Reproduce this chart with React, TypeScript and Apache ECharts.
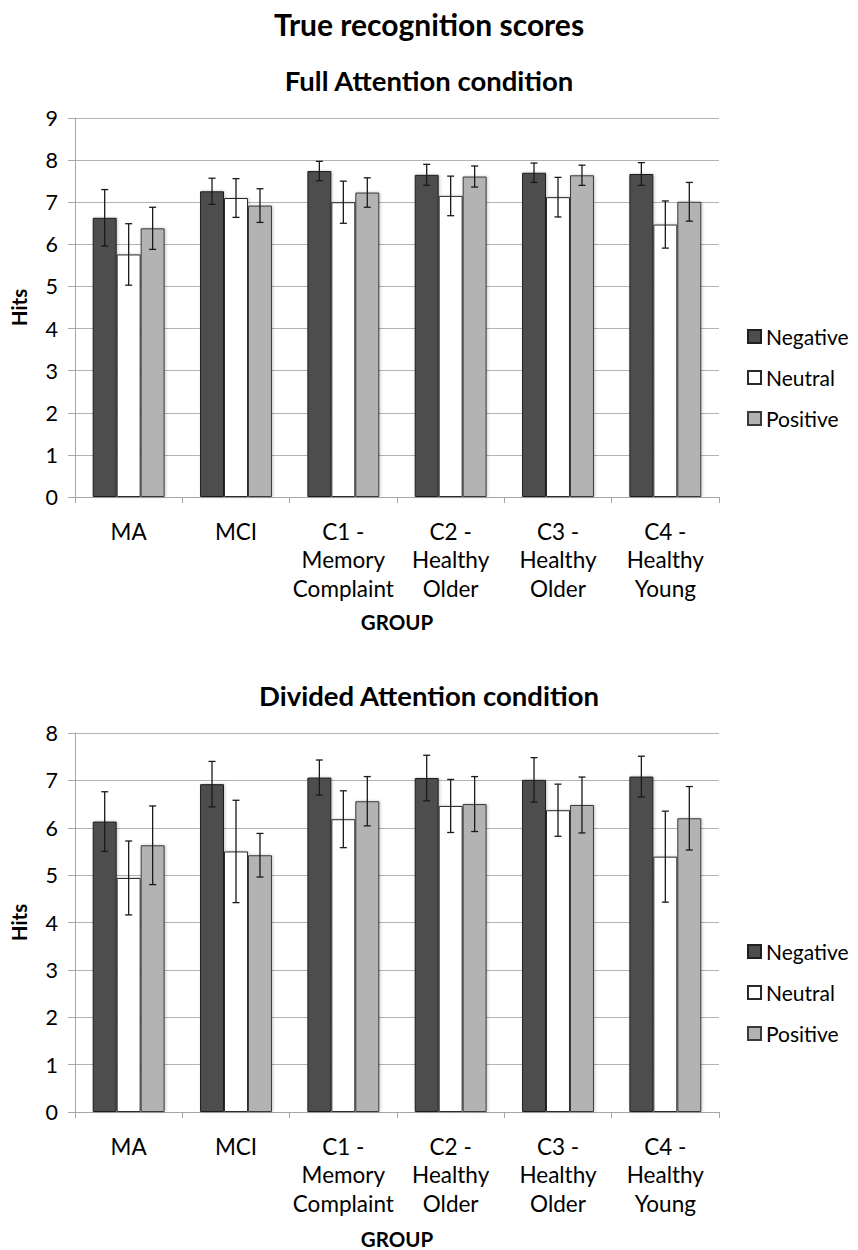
import React, { useEffect, useRef } from "react";
import * as echarts from "echarts";

// Group categories (x axis)
const groups = [
  "MA",
  "MCI",
  "C1 -\nMemory\nComplaint",
  "C2 -\nHealthy\nOlder",
  "C3 -\nHealthy\nOlder",
  "C4 -\nHealthy\nYoung",
];
const valenceNames = ["Negative", "Neutral", "Positive"];

// Full Attention condition: mean hits and error-bar half-widths
const fullNegative = [6.63, 7.26, 7.74, 7.65, 7.7, 7.67];
const fullNegativeErr = [0.67, 0.31, 0.23, 0.25, 0.23, 0.27];
const fullNeutral = [5.76, 7.1, 7.0, 7.15, 7.12, 6.47];
const fullNeutralErr = [0.73, 0.46, 0.5, 0.47, 0.47, 0.56];
const fullPositive = [6.38, 6.92, 7.23, 7.61, 7.64, 7.01];
const fullPositiveErr = [0.5, 0.4, 0.35, 0.25, 0.24, 0.46];

// Divided Attention condition
const dividedNegative = [6.13, 6.92, 7.06, 7.05, 7.01, 7.08];
const dividedNegativeErr = [0.63, 0.48, 0.37, 0.48, 0.47, 0.43];
const dividedNeutral = [4.94, 5.5, 6.18, 6.46, 6.37, 5.39];
const dividedNeutralErr = [0.78, 1.08, 0.6, 0.56, 0.55, 0.96];
const dividedPositive = [5.63, 5.42, 6.56, 6.5, 6.48, 6.2];
const dividedPositiveErr = [0.83, 0.46, 0.52, 0.58, 0.59, 0.67];

const FONT = "Lato, 'Open Sans', sans-serif";
const fills = ["#4d4d4d", "#ffffff", "#b3b3b3"];
const borders = ["#1f1f1f", "#2a2a2a", "#3a3a3a"];
const CATEGORY_GAP = 0.33;

function barSeries(gridIdx: number, values: number[][]) {
  return values.map((vals, i) => ({
    name: valenceNames[i],
    type: "bar",
    xAxisIndex: gridIdx,
    yAxisIndex: gridIdx,
    data: vals,
    barGap: "0%",
    barCategoryGap: CATEGORY_GAP * 100 + "%",
    itemStyle: {
      color: fills[i],
      borderColor: borders[i],
      borderWidth: 1,
      shadowColor: "rgba(0,0,0,0.22)",
      shadowBlur: 3,
      shadowOffsetX: 1,
      shadowOffsetY: 0,
    },
    z: 2,
  }));
}

function errorSeries(gridIdx: number, values: number[][], errs: number[][]) {
  return values.map((vals, i) => ({
    type: "custom",
    name: valenceNames[i] + " error",
    xAxisIndex: gridIdx,
    yAxisIndex: gridIdx,
    data: vals.map((v, k) => [k, v - errs[i][k], v + errs[i][k]]),
    z: 5,
    silent: true,
    renderItem: (params: any, api: any) => {
      const k = api.value(0);
      const lo = api.coord([k, api.value(1)]);
      const hi = api.coord([k, api.value(2)]);
      const band = api.size([1, 0])[0];
      const barW = (band * (1 - CATEGORY_GAP)) / 3;
      const x = lo[0] + (i - 1) * barW;
      const cap = 3.5;
      const style = { stroke: "#1a1a1a", lineWidth: 1.3 };
      return {
        type: "group",
        children: [
          { type: "line", shape: { x1: x, y1: lo[1], x2: x, y2: hi[1] }, style },
          { type: "line", shape: { x1: x - cap, y1: hi[1], x2: x + cap, y2: hi[1] }, style },
          { type: "line", shape: { x1: x - cap, y1: lo[1], x2: x + cap, y2: lo[1] }, style },
        ],
      };
    },
  }));
}

function xAxis(gridIdx: number, nameGap: number) {
  return {
    type: "category",
    gridIndex: gridIdx,
    data: groups,
    name: "GROUP",
    nameLocation: "middle",
    nameGap,
    nameTextStyle: { fontFamily: FONT, fontWeight: "bold", fontSize: 20.5, color: "#000" },
    axisLine: { show: true, lineStyle: { color: "#a6a6a6", width: 1 } },
    axisTick: { show: true, alignWithLabel: false, length: 6, lineStyle: { color: "#a6a6a6" } },
    axisLabel: {
      interval: 0,
      margin: 20,
      fontFamily: FONT,
      fontSize: 22.5,
      lineHeight: 28.5,
      color: "#000",
    },
  };
}

function yAxis(gridIdx: number, max: number) {
  return {
    type: "value",
    gridIndex: gridIdx,
    min: 0,
    max,
    interval: 1,
    name: "Hits",
    nameLocation: "middle",
    nameGap: 46,
    nameTextStyle: { fontFamily: FONT, fontWeight: "bold", fontSize: 20.5, color: "#000" },
    axisLine: { show: true, lineStyle: { color: "#a6a6a6", width: 1 } },
    axisTick: { show: true, length: 7, lineStyle: { color: "#a6a6a6" } },
    axisLabel: { margin: 17, fontFamily: FONT, fontSize: 21.5, color: "#000" },
    splitLine: { show: true, lineStyle: { color: "#b3b3b3", width: 1 } },
  };
}

function legend(top: number) {
  return {
    orient: "vertical",
    left: 747,
    top,
    padding: 0,
    itemWidth: 13,
    itemHeight: 13,
    itemGap: 20,
    icon: "rect",
    data: valenceNames,
    textStyle: { fontFamily: FONT, fontSize: 21, color: "#000", lineHeight: 21, padding: [0, 0, 0, 0] },
  };
}

export default function App() {
  const ref = useRef<HTMLDivElement>(null);

  useEffect(() => {
    if (!ref.current) return;
    const chart = echarts.init(ref.current, undefined, { renderer: "svg" });
    const fullVals = [fullNegative, fullNeutral, fullPositive];
    const fullErrs = [fullNegativeErr, fullNeutralErr, fullPositiveErr];
    const divVals = [dividedNegative, dividedNeutral, dividedPositive];
    const divErrs = [dividedNegativeErr, dividedNeutralErr, dividedPositiveErr];

    chart.setOption({
      animation: false,
      backgroundColor: "#ffffff",
      title: [
        {
          text: "True recognition scores",
          left: "center",
          top: 4,
          textStyle: { fontFamily: FONT, fontWeight: "bold", fontSize: 30, color: "#000" },
        },
        {
          text: "Full Attention condition",
          left: "center",
          top: 61,
          textStyle: { fontFamily: FONT, fontWeight: "bold", fontSize: 27.5, color: "#000" },
        },
        {
          text: "Divided Attention condition",
          left: "center",
          top: 676,
          textStyle: { fontFamily: FONT, fontWeight: "bold", fontSize: 27.5, color: "#000" },
        },
      ],
      legend: [legend(326), legend(941)],
      grid: [
        { left: 73, top: 118, width: 646, height: 379 },
        { left: 73, top: 733, width: 646, height: 379 },
      ],
      xAxis: [xAxis(0, 114), xAxis(1, 116)],
      yAxis: [yAxis(0, 9), yAxis(1, 8)],
      series: [
        ...barSeries(0, fullVals),
        ...barSeries(1, divVals),
        ...errorSeries(0, fullVals, fullErrs),
        ...errorSeries(1, divVals, divErrs),
      ],
    });
    return () => chart.dispose();
  }, []);

  return (
    <div
      ref={ref}
      style={{ position: "fixed", left: 0, top: 0, width: 858, height: 1250, background: "#fff" }}
    />
  );
}
